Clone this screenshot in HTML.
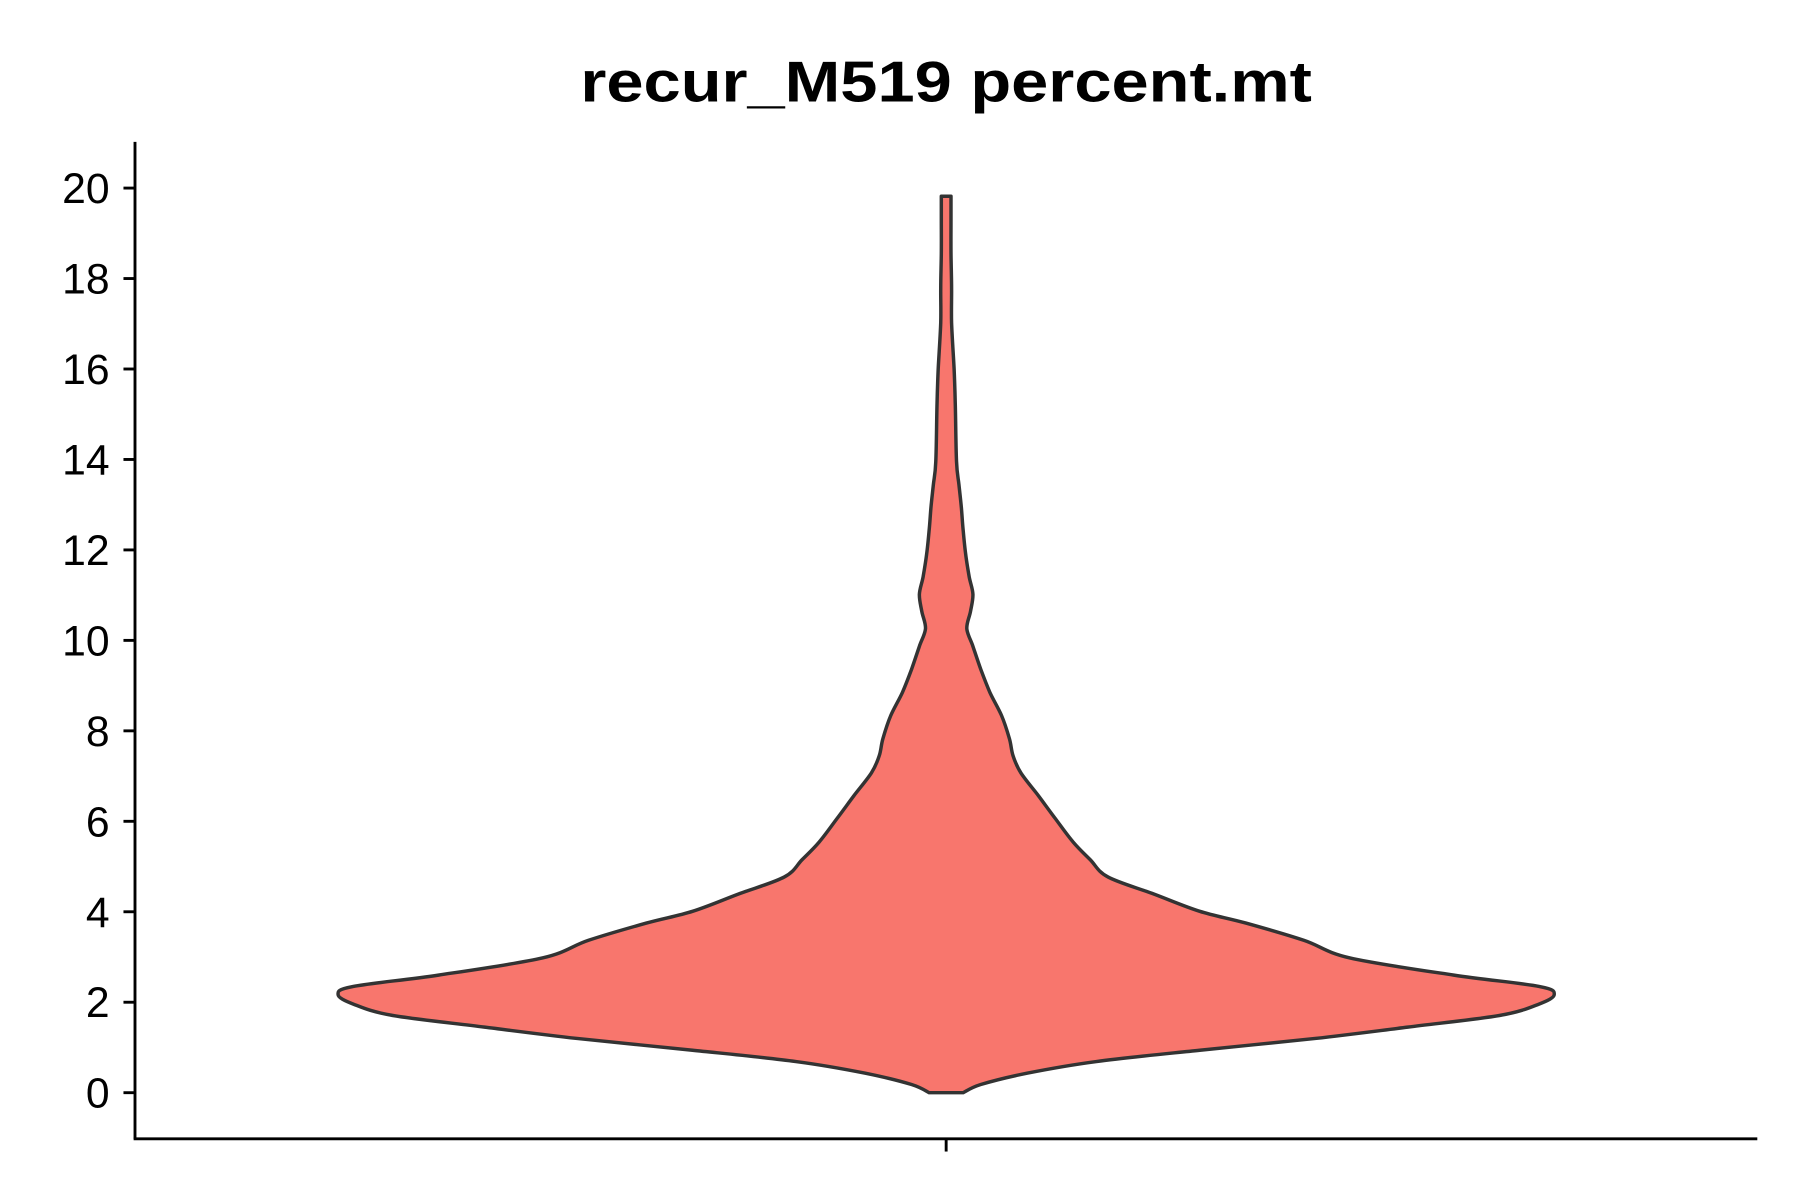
<!DOCTYPE html>
<html><head><meta charset="utf-8"><style>
html,body{margin:0;padding:0;background:#fff;}
svg{display:block;font-family:"Liberation Sans",Arial,sans-serif;}
</style></head><body>
<svg id="chart" width="1800" height="1200" viewBox="0 0 1560 1040" preserveAspectRatio="none" xmlns="http://www.w3.org/2000/svg">
<text x="820" y="88" text-anchor="middle" font-size="50" font-weight="bold" fill="#000" textLength="634" lengthAdjust="spacingAndGlyphs">recur_M519 percent.mt</text>
<g id="plot"></g>
</svg>
<script>
const yTicks = [0, 2, 4, 6, 8, 10, 12, 14, 16, 18, 20];
const yTickLabels = ["0", "2", "4", "6", "8", "10", "12", "14", "16", "18", "20"];
const violinValues = [0, 0.18, 0.43, 0.69, 0.94, 1.20, 1.45, 1.71, 1.96, 2.17, 2.35, 2.60, 2.98, 3.37, 3.75, 4.01, 4.39, 4.77, 5.15, 5.54, 6.05, 6.56, 7.07, 7.45, 7.83, 8.34, 8.85, 9.36, 9.87, 10.26, 10.64, 11.02, 11.40, 11.91, 12.42, 12.93, 13.44, 13.95, 15.23, 16.0, 17.02, 17.78, 18.55, 19.31, 19.82];
const violinDensity = [0.028, 0.057, 0.133, 0.247, 0.417, 0.607, 0.759, 0.911, 0.975, 1.0, 0.975, 0.835, 0.664, 0.588, 0.493, 0.417, 0.342, 0.266, 0.237, 0.209, 0.180, 0.152, 0.123, 0.110, 0.104, 0.091, 0.072, 0.057, 0.044, 0.034, 0.040, 0.044, 0.038, 0.032, 0.028, 0.025, 0.021, 0.017, 0.015, 0.013, 0.009, 0.009, 0.008, 0.008, 0.008];
const category = "recur_M519";

const NS = "http://www.w3.org/2000/svg";
const g = document.getElementById("plot");
const plotTop = 123, plotBottom = 987, axisX = 117, axisRight = 1523;
const y = v => 947 - v * 39.2;
const cx = 820, maxHalf = 527;
function mk(tag, attrs) { const e = document.createElementNS(NS, tag); for (const k in attrs) e.setAttribute(k, attrs[k]); g.appendChild(e); return e; }

function smooth(p) {
  let d = "";
  for (let i = 0; i < p.length - 1; i++) {
    const p0 = p[Math.max(0, i - 1)], p1 = p[i], p2 = p[i + 1], p3 = p[Math.min(p.length - 1, i + 2)];
    const c1x = p1[0] + (p2[0] - p0[0]) / 6, c1y = p1[1] + (p2[1] - p0[1]) / 6;
    const c2x = p2[0] - (p3[0] - p1[0]) / 6, c2y = p2[1] - (p3[1] - p1[1]) / 6;
    d += " C" + c1x.toFixed(1) + "," + c1y.toFixed(1) + " " + c2x.toFixed(1) + "," + c2y.toFixed(1) + " " + p2[0].toFixed(1) + "," + p2[1].toFixed(1);
  }
  return d;
}
let left = [], right = [];
for (let i = 0; i < violinValues.length; i++) {
  const yy = y(violinValues[i]), hw = violinDensity[i] * maxHalf;
  left.push([cx - hw, yy]);
  right.push([cx + hw, yy]);
}
const rightRev = right.slice().reverse();
let d = "M" + left[0][0].toFixed(1) + "," + left[0][1].toFixed(1) + smooth(left) +
  " L" + rightRev[0][0].toFixed(1) + "," + rightRev[0][1].toFixed(1) + smooth(rightRev) + " Z";
const v = mk("path", { d: d, fill: "#F8766D", stroke: "#333333", "stroke-width": 3, "stroke-linejoin": "round" });



const ya = mk("line", { x1: axisX, y1: plotTop, x2: axisX, y2: plotBottom, stroke: "#000", "stroke-width": 2.5 });


const xa = mk("line", { x1: axisX - 1.2, y1: plotBottom, x2: axisRight, y2: plotBottom, stroke: "#000", "stroke-width": 2.5 });


const xt = mk("line", { x1: cx, y1: plotBottom, x2: cx, y2: plotBottom + 11, stroke: "#000", "stroke-width": 2.5 });



yTicks.forEach((t, i) => {
  const yy = y(t);
  const tl = mk("line", { x1: axisX - 10, y1: yy, x2: axisX, y2: yy, stroke: "#000", "stroke-width": 2.5 });
  
  
  const tx = mk("text", { x: axisX - 22, y: yy + 13, "text-anchor": "end", "font-size": 37, fill: "#000" });
  tx.textContent = yTickLabels[i];
  
  
});
</script>
</body></html>
